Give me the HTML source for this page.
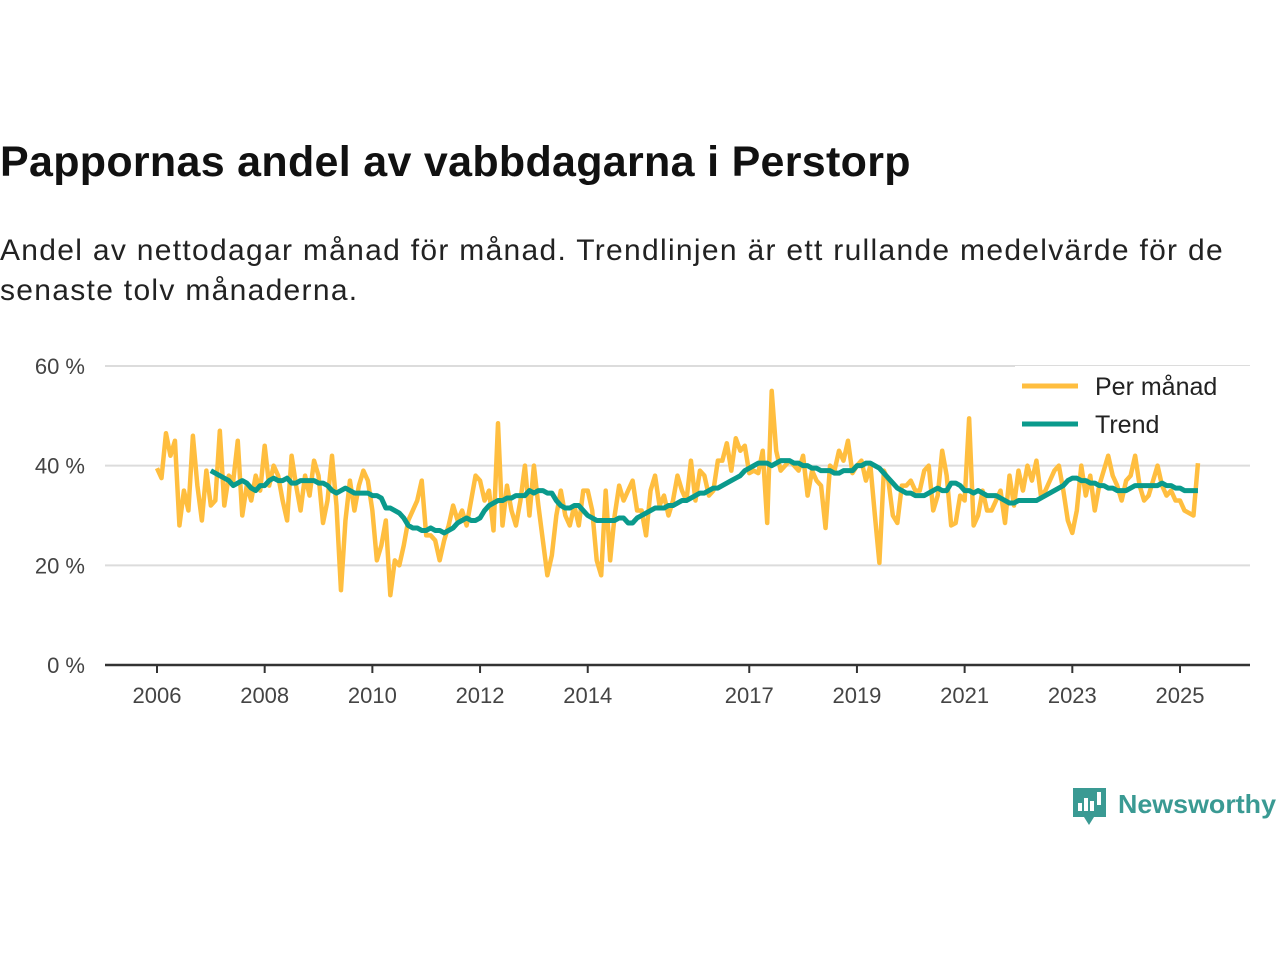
<!DOCTYPE html>
<html><head><meta charset="utf-8"><style>
body{margin:0;background:#fff;width:1280px;height:960px;overflow:hidden;font-family:"Liberation Sans",sans-serif;}
#t{position:absolute;left:0;top:138px;font-size:43px;font-weight:bold;color:#111;margin:0;letter-spacing:0.3px;white-space:nowrap}
#s{position:absolute;left:0;top:231px;font-size:30px;line-height:40px;color:#222;margin:0;width:1280px;letter-spacing:1.3px;white-space:nowrap}
svg{position:absolute;left:0;top:0}
</style></head><body>
<h1 id="t">Pappornas andel av vabbdagarna i Perstorp</h1>
<p id="s">Andel av nettodagar månad för månad. Trendlinjen är ett rullande medelvärde för de<br>senaste tolv månaderna.</p>
<svg id="c" width="1280" height="960"></svg>
<script>
const monthly=[39.5,37.5,46.5,42,45,28,35,31,46,36,29,39,
32,33,47,32,38,37,45,30,36,33,38,35,
44,36,40,38,33,29,42,36,31,38,34,41,
38,28.5,33,42,32,15,29,37,31,36,39,37,
31,21,24,29,14,21,20,24,29,31,33,37,
26,26,25,21,25,28,32,29,31,28,33,38,
37,33,35,27,48.5,28,36,31,28,33,40,30,
40,32,25,18,22,30,35,30,28,32,28,35,
35,31,21,18,35,21,30,36,33,35,37,31,
31,26,35,38,32,34,30,33,38,35,33,41,
33,39,38,34,35,41,41,44.5,39,45.5,43,44,
38.5,39,38.5,43,28.5,55,43,39,40,41,40,39,
42,34,39,37,36,27.5,40,39,43,41,45,38.5,
40,41,37,40,30,20.5,39,37,30,28.5,36,36,
37,35,35,39,40,31,34,43,38,28,28.5,34,
33,49.5,28,30,35,31,31,33,35,28.5,38,32,
39,35,40,37,41,34,35,37,39,40,35,29,
26.5,31,40,34,38,31,36,39,42,38,36,33,
37,38,42,36,33,34,37,40,36,34,35,33,
33,31,30.5,30,40.5];
const trendStart=12;
const trend=[39,38.5,38,37.5,37,36,36.5,37,36.5,35.5,35,36,
36,37,37.5,37,37,37.5,36.5,36.5,37,37,37,37,
36.5,36.5,36,35,34.5,35,35.5,35,34.5,34.5,34.5,34.5,
34,34,33.5,31.5,31.5,31,30.5,29.5,28,27.5,27.5,27,
27,27.5,27,27,26.5,27,27.5,28.5,29,29.5,29,29,
29.5,31,32,32.5,33,33,33.5,33.5,34,34,34,35,
34.5,35,35,34.5,34.5,33,32,31.5,31.5,32,32,31,
30,29.5,29,29,29,29,29,29.5,29.5,28.5,28.5,29.5,
30,30.5,31,31.5,31.5,31.5,32,32,32.5,33,33,33.5,
34,34.5,34.5,35,35.5,35.5,36,36.5,37,37.5,38,39,
39.5,40,40.5,40.5,40.5,40,40.5,41,41,41,40.5,40.5,
40,40,39.5,39.5,39,39,39,38.5,38.5,39,39,39,
40,40,40.5,40.5,40,39.5,38.5,37.5,36.5,35.5,35,34.5,
34.5,34,34,34,34.5,35,35.5,35,35,36.5,36.5,36,
35,35,34.5,35,34.5,34,34,34,33.5,33,32.5,32.5,
33,33,33,33,33,33.5,34,34.5,35,35.5,36,37,
37.5,37.5,37,37,36.5,36.5,36,36,35.5,35.5,35,35,
35,35.5,36,36,36,36,36,36,36.5,36,36,35.5,
35.5,35,35,35,35];
const yTicks=[0,20,40,60];
const yLabels=["0 %","20 %","40 %","60 %"];
const xYears=[2006,2008,2010,2012,2014,2017,2019,2021,2023,2025];
const NS="http://www.w3.org/2000/svg";
const svg=document.getElementById('c');
const x=i=>157+i*(1180-157)/228;
const y=v=>665-v*(665-366)/60;
function mk(t,a){const e=document.createElementNS(NS,t);for(const k in a)e.setAttribute(k,a[k]);svg.appendChild(e);return e;}
yTicks.forEach((v,k)=>{
 if(v>0){const g=mk('line',{x1:105,x2:1250,y1:y(v),y2:y(v),stroke:'#dcdcdc','stroke-width':2});
 
 }
 const t=mk('text',{x:85,y:y(v)+8,'text-anchor':'end','font-size':22,fill:'#444','font-family':'Liberation Sans, sans-serif'});
 t.textContent=yLabels[k];
 
 
});
const ax=mk('line',{x1:105,x2:1250,y1:665,y2:665,stroke:'#333','stroke-width':2.5});


xYears.forEach(yr=>{
 const px=x((yr-2006)*12);
 const tk=mk('line',{x1:px,x2:px,y1:665,y2:673,stroke:'#333','stroke-width':2});
 
 
 const t=mk('text',{x:px,y:703,'text-anchor':'middle','font-size':22,fill:'#444','font-family':'Liberation Sans, sans-serif'});
 t.textContent=yr;
 
 
});
const m=mk('polyline',{points:monthly.map((v,i)=>x(i)+','+y(v)).join(' '),fill:'none',stroke:'#ffbe3f','stroke-width':4.5,'stroke-linejoin':'round'});


const tr=mk('polyline',{points:trend.map((v,i)=>x(i+trendStart)+','+y(v)).join(' '),fill:'none',stroke:'#0a9a8c','stroke-width':5,'stroke-linejoin':'round'});


const lb=mk('rect',{x:1015,y:366,width:235,height:76,fill:'#fff'});


[['Per månad','#ffbe3f',386],['Trend','#0a9a8c',424]].forEach(([n,c,yy])=>{
 const l=mk('line',{x1:1022,x2:1078,y1:yy,y2:yy,stroke:c,'stroke-width':5});
 
 
 const t=mk('text',{x:1095,y:yy+9,'font-size':25,fill:'#222','font-family':'Liberation Sans, sans-serif'});
 t.textContent=n;
 
 
});
const lg=mk('g',{});


lg.innerHTML='<path d="M1073 788 h33 v29 h-12 l-5 8 l-5 -8 h-11 z" fill="#3a9a93"/><rect x="1078" y="803" width="4" height="8" fill="#fff"/><rect x="1084" y="798" width="4" height="13" fill="#fff"/><rect x="1090" y="801" width="4" height="10" fill="#fff"/><rect x="1097" y="792" width="4" height="13" fill="#fff"/><text x="1118" y="813" font-size="26" font-weight="bold" fill="#3a9a93" font-family="Liberation Sans, sans-serif" textLength="158" lengthAdjust="spacingAndGlyphs">Newsworthy</text>';
</script>
</body></html>
